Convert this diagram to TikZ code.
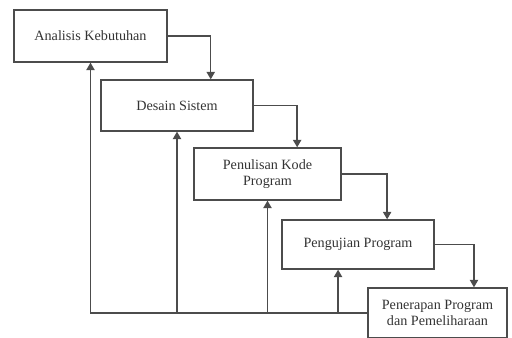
\documentclass[tikz,border=0pt]{standalone}
\usepackage{fontspec}
\setmainfont{Liberation Serif}
\usetikzlibrary{arrows.meta,calc}
\tikzset{
phase/.style={draw=black!70, line width=0.8pt, align=center, inner sep=2pt, text=black!80, font=\fontsize{8.5}{10}\selectfont}, % boxes of the phases
flow/.style={draw=black!70, line width=0.8pt, -{Triangle[length=4.5pt,width=5pt]}}, % arrows
}
\begin{document}
\begin{tikzpicture}[x=0.6pt,y=-0.6pt]
	\useasboundingbox (0,0) rectangle (512,338);
	\node[phase, minimum width=153*0.6pt, minimum height=52*0.6pt] (a1) at (90.5,36) {Analisis Kebutuhan};
	\node[phase, minimum width=152*0.6pt, minimum height=51*0.6pt] (a2) at (177,105.5) {Desain Sistem};
	\node[phase, minimum width=147*0.6pt, minimum height=52*0.6pt] (a3) at (267.5,174) {Penulisan Kode\\Program};
	\node[phase, minimum width=152*0.6pt, minimum height=49*0.6pt] (a4) at (358,244.5) {Pengujian Program};
	\node[phase, minimum width=139*0.6pt, minimum height=50*0.6pt] (a5) at (437.5,313) {Penerapan Program\\dan Pemeliharaan};
	% turun ke tahap berikutnya
	\draw[flow] (a1.east) -| ($(a2.north west)!0.72!(a2.north east)$);
	\draw[flow] (a2.east) -| ($(a3.north west)!0.70!(a3.north east)$);
	\draw[flow] (a3.east) -| ($(a4.north west)!0.69!(a4.north east)$);
	\draw[flow] (a4.east) -| ($(a5.north west)!0.76!(a5.north east)$);
	% umpan balik
	\coordinate (c4) at ($(a4.south west)!0.37!(a4.south east)$);
	\coordinate (b2) at (a2.south |- a5.west);
	\coordinate (b3) at (a3.south |- a5.west);
	\coordinate (b4) at (c4 |- a5.west);
	\draw[flow] (a5.west) -| (a1.south);
	\draw[flow] (b2) -- (a2.south);
	\draw[flow] (b3) -- (a3.south);
	\draw[flow] (b4) -- (c4);
\end{tikzpicture}
\end{document}
